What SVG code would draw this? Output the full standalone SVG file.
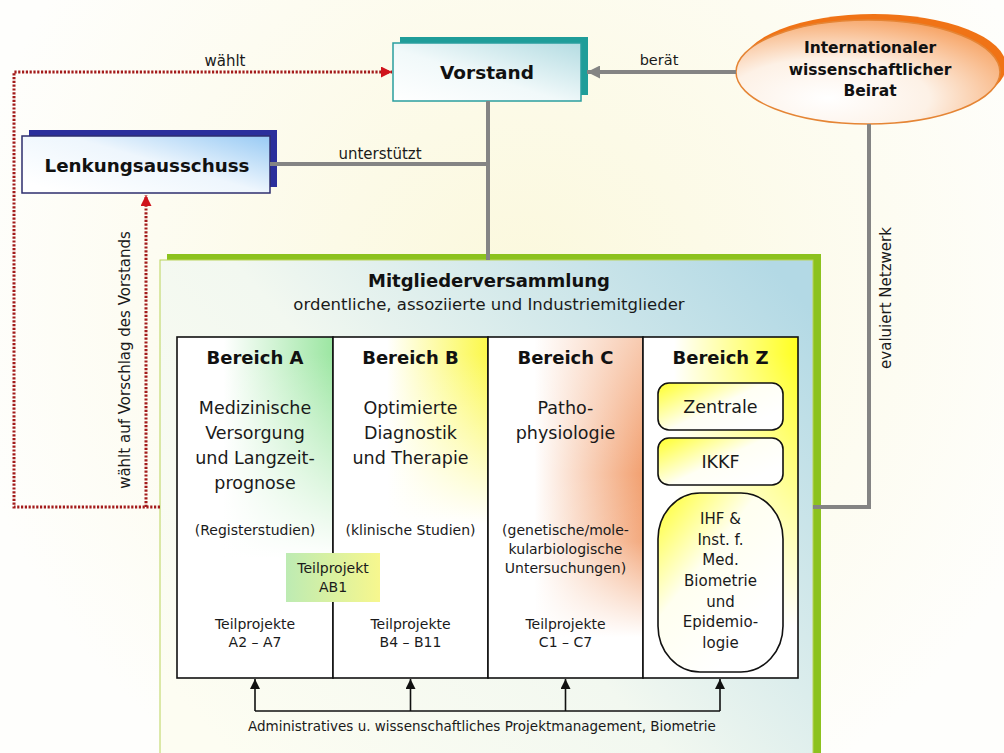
<svg xmlns="http://www.w3.org/2000/svg" width="1004" height="753" viewBox="0 0 1004 753">
<defs>
<style>
.b{font-family:"DejaVu Sans",sans-serif;font-weight:bold;fill:#111}
.r{font-family:"DejaVu Sans",sans-serif;fill:#1a1a1a}
.m{text-anchor:middle}
.gray{stroke:#848484;stroke-width:4;fill:none}
.dot{stroke:#a31b1b;stroke-width:3;stroke-dasharray:2.2 1.6;fill:none}
.blk{stroke:#111;stroke-width:1.6;fill:none}
.cell{stroke:#111;stroke-width:1.6}
</style>
<radialGradient id="bg" cx="520" cy="300" r="560" gradientUnits="userSpaceOnUse">
<stop offset="0" stop-color="#fbf8dc"/><stop offset="1" stop-color="#fefefc"/>
</radialGradient>
<linearGradient id="gVor" x1="0" y1="1" x2="1" y2="0">
<stop offset="0" stop-color="#ffffff"/><stop offset="0.45" stop-color="#f1f9fa"/><stop offset="1" stop-color="#b4dce2"/>
</linearGradient>
<linearGradient id="gLenk" x1="0" y1="0.8" x2="1" y2="0">
<stop offset="0" stop-color="#ffffff"/><stop offset="0.5" stop-color="#eef6fd"/><stop offset="1" stop-color="#98caf4"/>
</linearGradient>
<radialGradient id="gEll" cx="0.35" cy="0.75" r="0.85">
<stop offset="0" stop-color="#ffffff"/><stop offset="0.45" stop-color="#fdf1e6"/><stop offset="1" stop-color="#f69a55"/>
</radialGradient>
<linearGradient id="gMit" x1="0" y1="0.8" x2="1" y2="0.1">
<stop offset="0" stop-color="#fdfdf2"/><stop offset="0.45" stop-color="#f2f8f0"/><stop offset="1" stop-color="#b3d9e5"/>
</linearGradient>
<linearGradient id="hA" x1="0" y1="0" x2="1" y2="0">
<stop offset="0.3" stop-color="#9ce6a2" stop-opacity="0"/><stop offset="1" stop-color="#9ce6a2"/>
</linearGradient>
<linearGradient id="hB" x1="0" y1="0" x2="1" y2="0">
<stop offset="0.35" stop-color="#fbf84a" stop-opacity="0"/><stop offset="1" stop-color="#fbf84a"/>
</linearGradient>
<linearGradient id="hC" x1="0" y1="0" x2="1" y2="0">
<stop offset="0.3" stop-color="#f2a070" stop-opacity="0"/><stop offset="1" stop-color="#f2a070"/>
</linearGradient>
<linearGradient id="hZ" x1="0" y1="0" x2="1" y2="0">
<stop offset="0.2" stop-color="#ffff20" stop-opacity="0"/><stop offset="1" stop-color="#ffff20"/>
</linearGradient>
<linearGradient id="vA" x1="0" y1="0" x2="0" y2="1">
<stop offset="0.05" stop-color="#fff" stop-opacity="0"/><stop offset="0.65" stop-color="#fff" stop-opacity="1"/>
</linearGradient>
<linearGradient id="vB" x1="0" y1="0" x2="0" y2="1">
<stop offset="0.05" stop-color="#fff" stop-opacity="0"/><stop offset="0.55" stop-color="#fff" stop-opacity="1"/>
</linearGradient>
<linearGradient id="vC" x1="0" y1="0" x2="0" y2="1">
<stop offset="0" stop-color="#fff" stop-opacity="0.45"/><stop offset="0.4" stop-color="#fff" stop-opacity="0"/><stop offset="0.6" stop-color="#fff" stop-opacity="0.1"/><stop offset="0.88" stop-color="#fff" stop-opacity="1"/>
</linearGradient>
<linearGradient id="vZ" x1="0" y1="0" x2="0" y2="1">
<stop offset="0.05" stop-color="#fff" stop-opacity="0"/><stop offset="0.85" stop-color="#fff" stop-opacity="1"/>
</linearGradient>
<linearGradient id="gAB" x1="0" y1="0" x2="1" y2="0">
<stop offset="0" stop-color="#bdebb3"/><stop offset="1" stop-color="#f7f78e"/>
</linearGradient>
<linearGradient id="gZbox" x1="0" y1="0" x2="0.9" y2="0.7">
<stop offset="0" stop-color="#ffff2a"/><stop offset="0.6" stop-color="#fffff4"/><stop offset="1" stop-color="#ffffff"/>
</linearGradient>
<linearGradient id="gZbig" x1="0" y1="0" x2="0.7" y2="0.8">
<stop offset="0" stop-color="#ffff2a"/><stop offset="0.5" stop-color="#fffff0"/><stop offset="1" stop-color="#ffffff"/>
</linearGradient>
<marker id="arrRed" viewBox="0 0 10 10" refX="10" refY="5" markerWidth="11" markerHeight="11" markerUnits="userSpaceOnUse" orient="auto">
<path d="M0,0 L10,5 L0,10 z" fill="#d0141c"/>
</marker>
<marker id="arrGray" viewBox="0 0 10 10" refX="10" refY="5" markerWidth="13" markerHeight="13" markerUnits="userSpaceOnUse" orient="auto">
<path d="M0,0 L10,5 L0,10 z" fill="#848484"/>
</marker>
<marker id="arrBlk" viewBox="0 0 10 10" refX="10" refY="5" markerWidth="10" markerHeight="10" markerUnits="userSpaceOnUse" orient="auto">
<path d="M0,0 L10,5 L0,10 z" fill="#111"/>
</marker>
</defs>

<rect x="0" y="0" width="1004" height="753" fill="url(#bg)"/>

<g id="mitgliederversammlung">
<rect x="167" y="254" width="654" height="520" fill="#8cc21e"/>
<rect x="160" y="260" width="653" height="520" fill="url(#gMit)" stroke="#b9d35a" stroke-width="1"/>
<text class="b m" x="489" y="287" font-size="18">Mitgliederversammlung</text>
<text class="r m" x="489" y="310" font-size="16.5">ordentliche, assoziierte und Industriemitglieder</text>
</g>

<g id="bereich-a">
<rect x="177" y="337" width="156" height="341" fill="#fff"/>
<rect x="177" y="337" width="156" height="341" fill="url(#hA)"/>
<rect x="177" y="337" width="156" height="341" fill="url(#vA)"/>
<rect x="177" y="337" width="156" height="341" fill="none" class="cell"/>
<text class="b m" x="255" y="364" font-size="18">Bereich A</text>
<text class="r m" font-size="17.5"><tspan x="255" y="414">Medizinische</tspan><tspan x="255" y="439">Versorgung</tspan><tspan x="255" y="464">und Langzeit-</tspan><tspan x="255" y="489">prognose</tspan></text>
<text class="r m" x="255" y="535" font-size="14">(Registerstudien)</text>
<text class="r m" font-size="14"><tspan x="255" y="629">Teilprojekte</tspan><tspan x="255" y="647">A2 – A7</tspan></text>
</g>

<g id="bereich-b">
<rect x="333" y="337" width="155" height="341" fill="#fff"/>
<rect x="333" y="337" width="155" height="341" fill="url(#hB)"/>
<rect x="333" y="337" width="155" height="341" fill="url(#vB)"/>
<rect x="333" y="337" width="155" height="341" fill="none" class="cell"/>
<text class="b m" x="410.5" y="364" font-size="18">Bereich B</text>
<text class="r m" font-size="17.5"><tspan x="410.5" y="414">Optimierte</tspan><tspan x="410.5" y="439">Diagnostik</tspan><tspan x="410.5" y="464">und Therapie</tspan></text>
<text class="r m" x="410.5" y="535" font-size="14">(klinische Studien)</text>
<text class="r m" font-size="14"><tspan x="410.5" y="629">Teilprojekte</tspan><tspan x="410.5" y="647">B4 – B11</tspan></text>
</g>

<g id="teilprojekt-ab1">
<rect x="286" y="553" width="94" height="49" fill="url(#gAB)"/>
<text class="r m" font-size="14"><tspan x="333" y="573">Teilprojekt</tspan><tspan x="333" y="592">AB1</tspan></text>
</g>

<g id="bereich-c">
<rect x="488" y="337" width="155" height="341" fill="#fff"/>
<rect x="488" y="337" width="155" height="341" fill="url(#hC)"/>
<rect x="488" y="337" width="155" height="341" fill="url(#vC)"/>
<rect x="488" y="337" width="155" height="341" fill="none" class="cell"/>
<text class="b m" x="565.5" y="364" font-size="18">Bereich C</text>
<text class="r m" font-size="17.5"><tspan x="565.5" y="414">Patho-</tspan><tspan x="565.5" y="439">physiologie</tspan></text>
<text class="r m" font-size="14"><tspan x="565.5" y="535">(genetische/mole-</tspan><tspan x="565.5" y="554">kularbiologische</tspan><tspan x="565.5" y="573">Untersuchungen)</tspan></text>
<text class="r m" font-size="14"><tspan x="565.5" y="629">Teilprojekte</tspan><tspan x="565.5" y="647">C1 – C7</tspan></text>
</g>

<g id="bereich-z">
<rect x="643" y="337" width="155" height="341" fill="#fff"/>
<rect x="643" y="337" width="155" height="341" fill="url(#hZ)"/>
<rect x="643" y="337" width="155" height="341" fill="url(#vZ)"/>
<rect x="643" y="337" width="155" height="341" fill="none" class="cell"/>
<text class="b m" x="720.5" y="364" font-size="18">Bereich Z</text>
</g>

<g id="zentrale">
<rect x="658" y="383" width="125" height="47" rx="11" fill="url(#gZbox)" class="cell"/>
<text class="r m" x="720.5" y="413" font-size="17.5">Zentrale</text>
</g>
<g id="ikkf">
<rect x="658" y="438" width="125" height="47" rx="11" fill="url(#gZbox)" class="cell"/>
<text class="r m" x="720.5" y="468" font-size="17.5">IKKF</text>
</g>
<g id="ihf">
<rect x="658" y="493" width="125" height="179" rx="42" ry="46" fill="url(#gZbig)" class="cell"/>
<text class="r m" font-size="15"><tspan x="720.5" y="524">IHF &amp;</tspan><tspan x="720.5" y="545">Inst. f.</tspan><tspan x="720.5" y="565">Med.</tspan><tspan x="720.5" y="586">Biometrie</tspan><tspan x="720.5" y="607">und</tspan><tspan x="720.5" y="627">Epidemio-</tspan><tspan x="720.5" y="648">logie</tspan></text>
</g>

<g id="vorstand">
<rect x="400" y="37" width="188" height="58" fill="#1f9d99"/>
<rect x="393" y="43" width="188" height="58" fill="url(#gVor)" stroke="#2a9e9e" stroke-width="1.5"/>
<text class="b m" x="487" y="79" font-size="18.5">Vorstand</text>
</g>

<g id="lenkungsausschuss">
<rect x="29" y="130" width="248" height="57" fill="#2b2f9c"/>
<rect x="22" y="136" width="248" height="57" fill="url(#gLenk)" stroke="#2e2e6e" stroke-width="1.5"/>
<text class="b m" x="147" y="172" font-size="18.3">Lenkungsausschuss</text>
</g>

<g id="beirat">
<ellipse cx="874" cy="66" rx="132" ry="52" fill="#f07316"/>
<ellipse cx="868" cy="72" rx="132" ry="52" fill="url(#gEll)" stroke="#e58535" stroke-width="1.5"/>
<text class="b m" font-size="15.5"><tspan x="870" y="53">Internationaler</tspan><tspan x="870" y="75">wissenschaftlicher</tspan><tspan x="870" y="96">Beirat</tspan></text>
</g>

<g id="connectors">
<path class="dot" d="M160,507 H14 V72 H392" marker-end="url(#arrRed)"/>
<path class="dot" d="M146,507 V195" marker-end="url(#arrRed)"/>
<path class="gray" d="M488,101 V260"/>
<path class="gray" d="M270,164 H488"/>
<path class="gray" d="M736,72 H587" marker-end="url(#arrGray)"/>
<path class="gray" d="M869,124 V507 H813"/>
<path class="blk" d="M255,711 H720"/>
<path class="blk" d="M255,711 V679" marker-end="url(#arrBlk)"/>
<path class="blk" d="M410.5,711 V679" marker-end="url(#arrBlk)"/>
<path class="blk" d="M565.5,711 V679" marker-end="url(#arrBlk)"/>
<path class="blk" d="M720,711 V679" marker-end="url(#arrBlk)"/>
<text class="r m" x="225" y="66" font-size="15">wählt</text>
<text class="r m" x="380" y="159" font-size="15">unterstützt</text>
<text class="r m" x="659" y="65" font-size="14.5">berät</text>
<text class="r m" font-size="15" transform="translate(891,298) rotate(-90)">evaluiert Netzwerk</text>
<text class="r m" font-size="15" transform="translate(130,360) rotate(-90)">wählt auf Vorschlag des Vorstands</text>
<text class="r m" x="482" y="731" font-size="13.5">Administratives u. wissenschaftliches Projektmanagement, Biometrie</text>
</g>
</svg>
